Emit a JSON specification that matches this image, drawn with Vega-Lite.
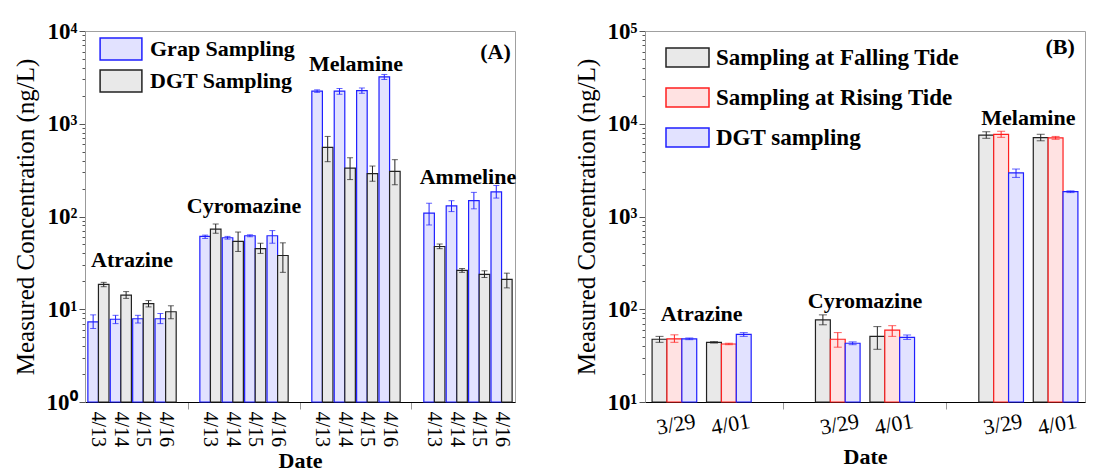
{
  "$schema": "https://vega.github.io/schema/vega-lite/v6.json",
  "background": "white",
  "padding": {"left": 12, "top": 19, "right": 0, "bottom": 0},
  "bounds": "flush",
  "spacing": 130,
  "config": {
    "font": "Liberation Serif",
    "view": {"stroke": "#a0a0a0", "strokeWidth": 1},
    "axis": {"grid": false, "labelFont": "Liberation Serif", "titleFont": "Liberation Serif", "labelColor": "#000", "titleColor": "#000"},
    "legend": {"labelFont": "Liberation Serif", "labelLimit": 500}
  },
  "datasets": {
    "a": [
      {"slot": "Atrazine 4/13", "type": "Grap Sampling", "value": 7.3, "lo": 6.2, "hi": 8.7},
      {"slot": "Atrazine 4/13", "type": "DGT Sampling", "value": 18.5, "lo": 17.5, "hi": 19.5},
      {"slot": "Atrazine 4/14", "type": "Grap Sampling", "value": 7.8, "lo": 7.0, "hi": 8.6},
      {"slot": "Atrazine 4/14", "type": "DGT Sampling", "value": 14.2, "lo": 13.1, "hi": 15.5},
      {"slot": "Atrazine 4/15", "type": "Grap Sampling", "value": 7.9, "lo": 7.1, "hi": 8.6},
      {"slot": "Atrazine 4/15", "type": "DGT Sampling", "value": 11.5, "lo": 10.6, "hi": 12.4},
      {"slot": "Atrazine 4/16", "type": "Grap Sampling", "value": 7.9, "lo": 7.0, "hi": 9.0},
      {"slot": "Atrazine 4/16", "type": "DGT Sampling", "value": 9.4, "lo": 7.9, "hi": 10.9},
      {"slot": "Cyromazine 4/13", "type": "Grap Sampling", "value": 61, "lo": 58, "hi": 63},
      {"slot": "Cyromazine 4/13", "type": "DGT Sampling", "value": 73, "lo": 66, "hi": 83},
      {"slot": "Cyromazine 4/14", "type": "Grap Sampling", "value": 59, "lo": 57, "hi": 61},
      {"slot": "Cyromazine 4/14", "type": "DGT Sampling", "value": 54, "lo": 42, "hi": 68},
      {"slot": "Cyromazine 4/15", "type": "Grap Sampling", "value": 62, "lo": 60.5, "hi": 63.5},
      {"slot": "Cyromazine 4/15", "type": "DGT Sampling", "value": 45, "lo": 40, "hi": 51.5},
      {"slot": "Cyromazine 4/16", "type": "Grap Sampling", "value": 62, "lo": 51.5, "hi": 70.5},
      {"slot": "Cyromazine 4/16", "type": "DGT Sampling", "value": 38, "lo": 25, "hi": 52},
      {"slot": "Melamine 4/13", "type": "Grap Sampling", "value": 2250, "lo": 2180, "hi": 2320},
      {"slot": "Melamine 4/13", "type": "DGT Sampling", "value": 557, "lo": 390, "hi": 730},
      {"slot": "Melamine 4/14", "type": "Grap Sampling", "value": 2250, "lo": 2080, "hi": 2400},
      {"slot": "Melamine 4/14", "type": "DGT Sampling", "value": 333, "lo": 250, "hi": 430},
      {"slot": "Melamine 4/15", "type": "Grap Sampling", "value": 2280, "lo": 2130, "hi": 2430},
      {"slot": "Melamine 4/15", "type": "DGT Sampling", "value": 290, "lo": 240, "hi": 350},
      {"slot": "Melamine 4/16", "type": "Grap Sampling", "value": 3200, "lo": 3000, "hi": 3400},
      {"slot": "Melamine 4/16", "type": "DGT Sampling", "value": 306, "lo": 220, "hi": 410},
      {"slot": "Ammeline 4/13", "type": "Grap Sampling", "value": 109, "lo": 81, "hi": 139},
      {"slot": "Ammeline 4/13", "type": "DGT Sampling", "value": 47.5, "lo": 45, "hi": 50.5},
      {"slot": "Ammeline 4/14", "type": "Grap Sampling", "value": 130, "lo": 113, "hi": 148},
      {"slot": "Ammeline 4/14", "type": "DGT Sampling", "value": 26.3, "lo": 25, "hi": 27.5},
      {"slot": "Ammeline 4/15", "type": "Grap Sampling", "value": 148, "lo": 121, "hi": 182},
      {"slot": "Ammeline 4/15", "type": "DGT Sampling", "value": 23.8, "lo": 22, "hi": 26},
      {"slot": "Ammeline 4/16", "type": "Grap Sampling", "value": 184, "lo": 158, "hi": 216},
      {"slot": "Ammeline 4/16", "type": "DGT Sampling", "value": 21, "lo": 17, "hi": 24.5}
    ],
    "aLab": [
      {"slot": "Atrazine 4/14", "value": 34, "label": "Atrazine"},
      {"slot": "Cyromazine 4/14", "value": 131, "label": "Cyromazine"},
      {"slot": "Melamine 4/14", "value": 4400, "label": "Melamine"},
      {"slot": "Ammeline 4/14", "value": 264, "label": "Ammeline"}
    ],
    "aTag": [
      {"slot": "Ammeline 4/16", "value": 6000, "label": "(A)"}
    ],
    "b": [
      {"slot": "Atrazine 3/29", "type": "Sampling at Falling Tide", "value": 47.5, "lo": 44, "hi": 51},
      {"slot": "Atrazine 3/29", "type": "Sampling at Rising Tide", "value": 48, "lo": 44, "hi": 53},
      {"slot": "Atrazine 3/29", "type": "DGT sampling", "value": 48, "lo": 47, "hi": 49},
      {"slot": "Atrazine 4/01", "type": "Sampling at Falling Tide", "value": 44, "lo": 43.2, "hi": 44.8},
      {"slot": "Atrazine 4/01", "type": "Sampling at Rising Tide", "value": 42.2, "lo": 41.5, "hi": 43},
      {"slot": "Atrazine 4/01", "type": "DGT sampling", "value": 53.5, "lo": 51, "hi": 56},
      {"slot": "Cyromazine 3/29", "type": "Sampling at Falling Tide", "value": 77, "lo": 68, "hi": 87},
      {"slot": "Cyromazine 3/29", "type": "Sampling at Rising Tide", "value": 47.5, "lo": 39, "hi": 56},
      {"slot": "Cyromazine 3/29", "type": "DGT sampling", "value": 43, "lo": 41.5, "hi": 44.5},
      {"slot": "Cyromazine 4/01", "type": "Sampling at Falling Tide", "value": 51, "lo": 37, "hi": 65},
      {"slot": "Cyromazine 4/01", "type": "Sampling at Rising Tide", "value": 59.5, "lo": 51, "hi": 66.5},
      {"slot": "Cyromazine 4/01", "type": "DGT sampling", "value": 49.8, "lo": 47.3, "hi": 52.8},
      {"slot": "Melamine 3/29", "type": "Sampling at Falling Tide", "value": 7550, "lo": 6970, "hi": 8200},
      {"slot": "Melamine 3/29", "type": "Sampling at Rising Tide", "value": 7700, "lo": 7140, "hi": 8300},
      {"slot": "Melamine 3/29", "type": "DGT sampling", "value": 2950, "lo": 2640, "hi": 3250},
      {"slot": "Melamine 4/01", "type": "Sampling at Falling Tide", "value": 7100, "lo": 6550, "hi": 7700},
      {"slot": "Melamine 4/01", "type": "Sampling at Rising Tide", "value": 7050, "lo": 6800, "hi": 7300},
      {"slot": "Melamine 4/01", "type": "DGT sampling", "value": 1850, "lo": 1810, "hi": 1890}
    ],
    "bLab": [
      {"slot": "Atrazine 3/29", "value": 89, "label": "Atrazine"},
      {"slot": "Cyromazine 3/29", "value": 123, "label": "Cyromazine"},
      {"slot": "Melamine 3/29", "value": 11500, "label": "Melamine"}
    ],
    "bTag": [
      {"slot": "Melamine 4/01", "value": 67000, "label": "(B)"}
    ]
  },
  "hconcat": [
    {
      "width": 430,
      "height": 371,
      "layer": [
        {
          "data": {"name": "a"},
          "mark": {"type": "bar", "strokeWidth": 1.2},
          "encoding": {
            "x": {
              "field": "slot", "type": "nominal", "title": "Date",
              "scale": {"domain": ["Atrazine 4/13", "Atrazine 4/14", "Atrazine 4/15", "Atrazine 4/16", "gap1", "Cyromazine 4/13", "Cyromazine 4/14", "Cyromazine 4/15", "Cyromazine 4/16", "gap2", "Melamine 4/13", "Melamine 4/14", "Melamine 4/15", "Melamine 4/16", "gap3", "Ammeline 4/13", "Ammeline 4/14", "Ammeline 4/15", "Ammeline 4/16"], "paddingInner": 0, "paddingOuter": 0.1},
              "axis": {
                "labelAngle": 90, "labelAlign": "left", "labelBaseline": "middle", "labelFontSize": 20, "labelPadding": 2,
                "labelExpr": "indexof(datum.value, 'gap') == 0 ? '' : split(datum.value, ' ')[1]",
                "tickOpacity": {"condition": {"test": "indexof(datum.value, 'gap') == 0", "value": 1}, "value": 0},
                "tickSize": 7, "tickColor": "#999", "domainColor": "#000",
                "titleFontSize": 22, "titleFontWeight": "bold", "titlePadding": 4
              }
            },
            "xOffset": {"field": "type", "type": "nominal", "scale": {"domain": ["Grap Sampling", "DGT Sampling"], "paddingInner": 0, "paddingOuter": 0.06}},
            "y": {
              "field": "value", "type": "quantitative", "title": "Measured Concentration (ng/L)",
              "scale": {"type": "log", "domain": [1, 10000], "nice": false},
              "axis": {
                "values": [1, 2, 3, 4, 5, 6, 7, 8, 9, 10, 20, 30, 40, 50, 60, 70, 80, 90, 100, 200, 300, 400, 500, 600, 700, 800, 900, 1000, 2000, 3000, 4000, 5000, 6000, 7000, 8000, 9000, 10000],
                "labelExpr": "datum.value == 1 ? '10⁰' : datum.value == 10 ? '10¹' : datum.value == 100 ? '10²' : datum.value == 1000 ? '10³' : datum.value == 10000 ? '10⁴' : ''",
                "tickSize": {"condition": {"test": "datum.value == 1 || datum.value == 10 || datum.value == 100 || datum.value == 1000 || datum.value == 10000", "value": 6}, "value": 3},
                "labelOverlap": false, "labelFontSize": 23, "labelFontWeight": "bold", "labelPadding": 2,
                "tickColor": "#555", "domainColor": "#999",
                "titleFontSize": 25, "titleFontWeight": "normal", "titlePadding": 8
              }
            },
            "y2": {"datum": 1},
            "fill": {
              "field": "type", "type": "nominal",
              "scale": {"domain": ["Grap Sampling", "DGT Sampling"], "range": ["#e2e2ff", "#e9e9e9"]},
              "legend": {"title": null, "orient": "none", "legendX": 24, "legendY": 6, "symbolType": "M-1.9,-1H1.9V1H-1.9Z", "symbolSize": 484, "symbolStrokeWidth": 1.5, "labelFontSize": 22, "labelFontWeight": "bold", "labelColor": "#000", "rowPadding": 4, "padding": 0, "labelOffset": 17}
            },
            "stroke": {
              "field": "type", "type": "nominal",
              "scale": {"domain": ["Grap Sampling", "DGT Sampling"], "range": ["#1f1fff", "#222222"]},
              "legend": {"title": null, "orient": "none", "legendX": 24, "legendY": 6, "symbolType": "M-1.9,-1H1.9V1H-1.9Z", "symbolSize": 484, "symbolStrokeWidth": 1.5, "labelFontSize": 22, "labelFontWeight": "bold", "labelColor": "#000", "rowPadding": 4, "padding": 0, "labelOffset": 17}
            }
          }
        },
        {
          "data": {"name": "a"},
          "mark": {"type": "rule", "strokeWidth": 1},
          "encoding": {
            "x": {"field": "slot", "type": "nominal", "title": "Date"},
            "xOffset": {"field": "type", "type": "nominal"},
            "y": {"field": "lo", "type": "quantitative", "title": "Measured Concentration (ng/L)"},
            "y2": {"field": "hi"},
            "stroke": {"field": "type", "type": "nominal"}
          }
        },
        {
          "data": {"name": "a"},
          "mark": {"type": "tick", "size": 6, "thickness": 1},
          "encoding": {
            "x": {"field": "slot", "type": "nominal", "title": "Date"},
            "xOffset": {"field": "type", "type": "nominal"},
            "y": {"field": "lo", "type": "quantitative", "title": "Measured Concentration (ng/L)"},
            "color": {"field": "type", "type": "nominal", "scale": {"domain": ["Grap Sampling", "DGT Sampling"], "range": ["#1f1fff", "#222222"]}, "legend": null}
          }
        },
        {
          "data": {"name": "a"},
          "mark": {"type": "tick", "size": 6, "thickness": 1},
          "encoding": {
            "x": {"field": "slot", "type": "nominal", "title": "Date"},
            "xOffset": {"field": "type", "type": "nominal"},
            "y": {"field": "hi", "type": "quantitative", "title": "Measured Concentration (ng/L)"},
            "color": {"field": "type", "type": "nominal", "legend": null}
          }
        },
        {
          "data": {"name": "aLab"},
          "mark": {"type": "text", "fontSize": 22, "fontWeight": "bold", "align": "center", "baseline": "middle", "color": "#000"},
          "encoding": {
            "x": {"field": "slot", "type": "nominal", "bandPosition": 1, "title": "Date"},
            "y": {"field": "value", "type": "quantitative", "title": "Measured Concentration (ng/L)"},
            "text": {"field": "label"}
          }
        },
        {
          "data": {"name": "aTag"},
          "mark": {"type": "text", "fontSize": 22, "fontWeight": "bold", "align": "right", "baseline": "middle", "dx": -2, "color": "#000"},
          "encoding": {
            "x": {"field": "slot", "type": "nominal", "bandPosition": 1, "title": "Date"},
            "y": {"field": "value", "type": "quantitative", "title": "Measured Concentration (ng/L)"},
            "text": {"field": "label"}
          }
        }
      ]
    },
    {
      "width": 440,
      "height": 371,
      "layer": [
        {
          "data": {"name": "b"},
          "mark": {"type": "bar", "strokeWidth": 1.2},
          "encoding": {
            "x": {
              "field": "slot", "type": "nominal", "title": "Date",
              "scale": {"domain": ["Atrazine 3/29", "Atrazine 4/01", "gap1", "Cyromazine 3/29", "Cyromazine 4/01", "gap2", "Melamine 3/29", "Melamine 4/01"], "paddingInner": 0, "paddingOuter": 0.04},
              "axis": {
                "labelAngle": -10, "labelAlign": "center", "labelBaseline": "top", "labelFontSize": 22, "labelPadding": 5,
                "labelExpr": "indexof(datum.value, 'gap') == 0 ? '' : split(datum.value, ' ')[1]",
                "tickOpacity": {"condition": {"test": "indexof(datum.value, 'gap') == 0", "value": 1}, "value": 0},
                "tickSize": 7, "tickColor": "#999", "domainColor": "#000",
                "titleFontSize": 22, "titleFontWeight": "bold", "titlePadding": 8
              }
            },
            "xOffset": {"field": "type", "type": "nominal", "scale": {"domain": ["Sampling at Falling Tide", "Sampling at Rising Tide", "DGT sampling"], "paddingInner": 0, "paddingOuter": 0.33}},
            "y": {
              "field": "value", "type": "quantitative", "title": "Measured Concentration (ng/L)",
              "scale": {"type": "log", "domain": [10, 100000], "nice": false},
              "axis": {
                "values": [10, 20, 30, 40, 50, 60, 70, 80, 90, 100, 200, 300, 400, 500, 600, 700, 800, 900, 1000, 2000, 3000, 4000, 5000, 6000, 7000, 8000, 9000, 10000, 20000, 30000, 40000, 50000, 60000, 70000, 80000, 90000, 100000],
                "labelExpr": "datum.value == 10 ? '10¹' : datum.value == 100 ? '10²' : datum.value == 1000 ? '10³' : datum.value == 10000 ? '10⁴' : datum.value == 100000 ? '10⁵' : ''",
                "tickSize": {"condition": {"test": "datum.value == 10 || datum.value == 100 || datum.value == 1000 || datum.value == 10000 || datum.value == 100000", "value": 6}, "value": 3},
                "labelOverlap": false, "labelFontSize": 23, "labelFontWeight": "bold", "labelPadding": 2,
                "tickColor": "#555", "domainColor": "#999",
                "titleFontSize": 25, "titleFontWeight": "normal", "titlePadding": 8
              }
            },
            "y2": {"datum": 10},
            "fill": {
              "field": "type", "type": "nominal",
              "scale": {"domain": ["Sampling at Falling Tide", "Sampling at Rising Tide", "DGT sampling"], "range": ["#e9e9e9", "#ffe2e2", "#e2e2ff"]},
              "legend": {"title": null, "orient": "none", "legendX": 20, "legendY": 4, "symbolType": "M-1,-0.44H1V0.44H-1Z", "symbolSize": 1849, "symbolStrokeWidth": 1.5, "labelFontSize": 23, "labelFontWeight": "bold", "labelColor": "#000", "rowPadding": 5, "padding": 0, "labelOffset": 6}
            },
            "stroke": {
              "field": "type", "type": "nominal",
              "scale": {"domain": ["Sampling at Falling Tide", "Sampling at Rising Tide", "DGT sampling"], "range": ["#222222", "#ff1f1f", "#1f1fff"]},
              "legend": {"title": null, "orient": "none", "legendX": 20, "legendY": 4, "symbolType": "M-1,-0.44H1V0.44H-1Z", "symbolSize": 1849, "symbolStrokeWidth": 1.5, "labelFontSize": 23, "labelFontWeight": "bold", "labelColor": "#000", "rowPadding": 5, "padding": 0, "labelOffset": 6}
            }
          }
        },
        {
          "data": {"name": "b"},
          "mark": {"type": "rule", "strokeWidth": 1},
          "encoding": {
            "x": {"field": "slot", "type": "nominal", "title": "Date"},
            "xOffset": {"field": "type", "type": "nominal"},
            "y": {"field": "lo", "type": "quantitative", "title": "Measured Concentration (ng/L)"},
            "y2": {"field": "hi"},
            "stroke": {"field": "type", "type": "nominal"}
          }
        },
        {
          "data": {"name": "b"},
          "mark": {"type": "tick", "size": 8, "thickness": 1},
          "encoding": {
            "x": {"field": "slot", "type": "nominal", "title": "Date"},
            "xOffset": {"field": "type", "type": "nominal"},
            "y": {"field": "lo", "type": "quantitative", "title": "Measured Concentration (ng/L)"},
            "color": {"field": "type", "type": "nominal", "scale": {"domain": ["Sampling at Falling Tide", "Sampling at Rising Tide", "DGT sampling"], "range": ["#222222", "#ff1f1f", "#1f1fff"]}, "legend": null}
          }
        },
        {
          "data": {"name": "b"},
          "mark": {"type": "tick", "size": 8, "thickness": 1},
          "encoding": {
            "x": {"field": "slot", "type": "nominal", "title": "Date"},
            "xOffset": {"field": "type", "type": "nominal"},
            "y": {"field": "hi", "type": "quantitative", "title": "Measured Concentration (ng/L)"},
            "color": {"field": "type", "type": "nominal", "legend": null}
          }
        },
        {
          "data": {"name": "bLab"},
          "mark": {"type": "text", "fontSize": 22, "fontWeight": "bold", "align": "center", "baseline": "middle", "color": "#000"},
          "encoding": {
            "x": {"field": "slot", "type": "nominal", "bandPosition": 1, "title": "Date"},
            "y": {"field": "value", "type": "quantitative", "title": "Measured Concentration (ng/L)"},
            "text": {"field": "label"}
          }
        },
        {
          "data": {"name": "bTag"},
          "mark": {"type": "text", "fontSize": 22, "fontWeight": "bold", "align": "right", "baseline": "middle", "dx": -8, "color": "#000"},
          "encoding": {
            "x": {"field": "slot", "type": "nominal", "bandPosition": 1, "title": "Date"},
            "y": {"field": "value", "type": "quantitative", "title": "Measured Concentration (ng/L)"},
            "text": {"field": "label"}
          }
        }
      ]
    }
  ],
  "resolve": {
    "scale": {"x": "independent", "y": "independent", "xOffset": "independent", "fill": "independent", "stroke": "independent", "color": "independent"},
    "legend": {"fill": "independent", "stroke": "independent"},
    "axis": {"x": "independent", "y": "independent"}
  }
}
